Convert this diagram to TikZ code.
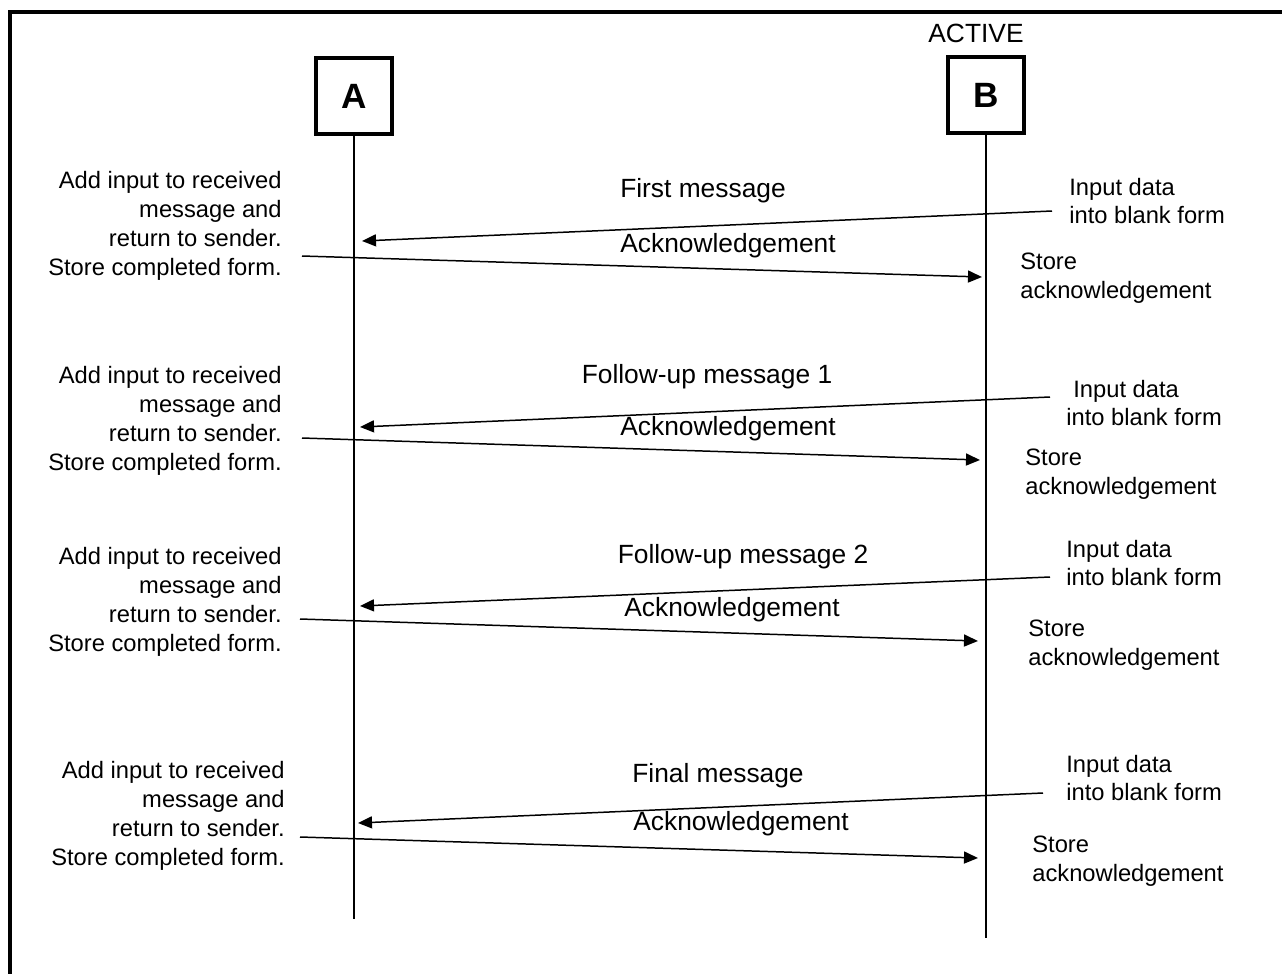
\documentclass[tikz,border=0pt]{standalone}
\usepackage{fontspec}
\setmainfont{Liberation Sans}
\usetikzlibrary{arrows.meta}

\tikzset{
  actor/.style={draw, line width=2.5pt, minimum width=1.52cm, minimum height=1.52cm,
    font=\fontsize{20}{22}\selectfont\bfseries},
  lbl/.style={font=\fontsize{13.5}{16.4}\selectfont, inner sep=0pt},
  msglbl/.style={font=\fontsize{15}{18}\selectfont, inner sep=0pt},
  msg/.style={-{Triangle[length=0.28cm,width=0.24cm]}, line width=0.85pt},
  life/.style={line width=0.85pt}
}

\begin{document}
\begin{tikzpicture}[x=0.02cm, y=-0.02cm]
\useasboundingbox (0,0) rectangle (1282,974);
%the frame
\draw [line width=2pt] (10,974) -- (10,12) -- (1282,12);

%the two parties
\node [actor] (A) at (354,96) {A};
\node [actor] (B) at (986,95) {B};
\node [msglbl] (active) at (976,33) {ACTIVE};

%the lifelines
\coordinate (Aend) at (354,919);
\coordinate (Bend) at (986,938);
\draw [life] (A.south) -- (Aend);
\draw [life] (B.south) -- (Bend);

%first message
\coordinate (in1) at (1052,211);
\coordinate (rx1) at (362,241);
\coordinate (ok1) at (302,256);
\coordinate (st1) at (982,277);
\draw [msg] (in1) -- (rx1);
\draw [msg] (ok1) -- (st1);
\node [msglbl] (m1) at (703,191) {First message};
\node [msglbl] (k1) at (728,246) {Acknowledgement};
\node [lbl, align=right, anchor=east] (a1) at (282,226) {Add input to received\\message and\\return to sender.\\Store completed form.};
\node [lbl, align=left, anchor=west] (i1) at (1069,201) {Input data\\into blank form};
\node [lbl, align=left, anchor=west] (s1) at (1020,278) {Store\\acknowledgement};

%follow-up message 1
\coordinate (in2) at (1050,397);
\coordinate (rx2) at (360,427);
\coordinate (ok2) at (302,438);
\coordinate (st2) at (980,460);
\draw [msg] (in2) -- (rx2);
\draw [msg] (ok2) -- (st2);
\node [msglbl] (m2) at (707,377) {Follow-up message 1};
\node [msglbl] (k2) at (728,429) {Acknowledgement};
\node [lbl, align=right, anchor=east] (a2) at (282,421) {Add input to received\\message and\\return to sender.\\Store completed form.};
\node [lbl, align=left, anchor=west] (i2) at (1066,403) {\hspace{0.14cm}Input data\\into blank form};
\node [lbl, align=left, anchor=west] (s2) at (1025,474) {Store\\acknowledgement};

%follow-up message 2
\coordinate (in3) at (1050,577);
\coordinate (rx3) at (360,606);
\coordinate (ok3) at (300,619);
\coordinate (st3) at (978,641);
\draw [msg] (in3) -- (rx3);
\draw [msg] (ok3) -- (st3);
\node [msglbl] (m3) at (743,557) {Follow-up message 2};
\node [msglbl] (k3) at (732,610) {Acknowledgement};
\node [lbl, align=right, anchor=east] (a3) at (282,602) {Add input to received\\message and\\return to sender.\\Store completed form.};
\node [lbl, align=left, anchor=west] (i3) at (1066,563) {Input data\\into blank form};
\node [lbl, align=left, anchor=west] (s3) at (1028,645) {Store\\acknowledgement};

%final message
\coordinate (in4) at (1043,793);
\coordinate (rx4) at (358,823);
\coordinate (ok4) at (300,837);
\coordinate (st4) at (978,858);
\draw [msg] (in4) -- (rx4);
\draw [msg] (ok4) -- (st4);
\node [msglbl] (m4) at (718,776) {Final message};
\node [msglbl] (k4) at (741,824) {Acknowledgement};
\node [lbl, align=right, anchor=east] (a4) at (285,816) {Add input to received\\message and\\return to sender.\\Store completed form.};
\node [lbl, align=left, anchor=west] (i4) at (1066,778) {Input data\\into blank form};
\node [lbl, align=left, anchor=west] (s4) at (1032,861) {Store\\acknowledgement};
\end{tikzpicture}
\end{document}
